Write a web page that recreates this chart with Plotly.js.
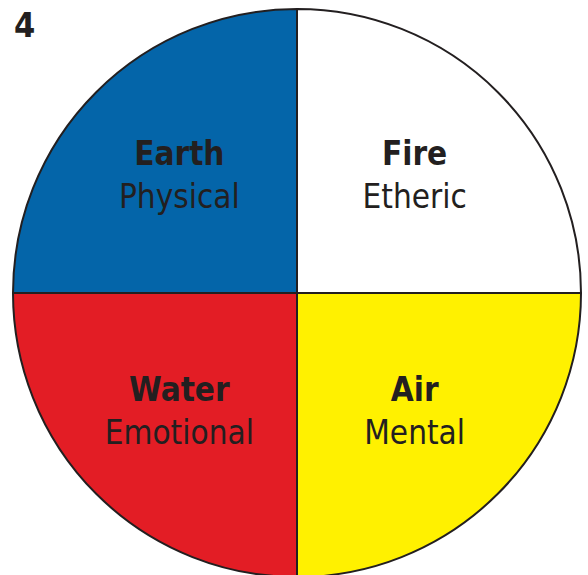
<!DOCTYPE html>
<html>
<head>
<meta charset="utf-8">
<script src="https://cdn.plot.ly/plotly-3.0.1.min.js"></script>
<style>
html,body{margin:0;padding:0;overflow:hidden;background:#fff;}
#chart{width:588px;height:580px;}
</style>
</head>
<body>
<div id="chart"></div>
<script>
var elements = ["Fire", "Air", "Water", "Earth"];
var aspects = ["Etheric", "Mental", "Emotional", "Physical"];
var shares = [1, 1, 1, 1];
var sliceColors = ["#ffffff", "#fff100", "#e31d25", "#0465a9"];
var figureLabel = "4";

var fontStack = "'Liberation Sans Narrow', 'Arial Narrow', 'DejaVu Sans Condensed', sans-serif";

var trace = {
  type: "pie",
  labels: elements,
  values: shares,
  customdata: aspects,
  sort: false,
  direction: "clockwise",
  rotation: 0,
  marker: {colors: sliceColors, line: {color: "#231f20", width: 2}},
  textposition: "inside",
  insidetextorientation: "horizontal",
  texttemplate: "<b>%{label}</b><br>%{customdata}",
  textfont: {family: fontStack, size: 33, color: "#231f20"},
  hoverinfo: "none",
  domain: {x: [13/588, 581/588], y: [3/580, 571/580]}
};

var layout = {
  width: 588,
  height: 580,
  margin: {l: 0, r: 0, t: 0, b: 0},
  showlegend: false,
  paper_bgcolor: "#ffffff",
  annotations: [{
    text: "<b>" + figureLabel + "</b>",
    xref: "paper", yref: "paper",
    x: 12/588, y: 1 - 3/580,
    xanchor: "left", yanchor: "top",
    showarrow: false,
    font: {family: fontStack, size: 34, color: "#231f20"}
  }]
};

Plotly.newPlot("chart", [trace], layout, {displayModeBar: false, staticPlot: true});
</script>
</body>
</html>
